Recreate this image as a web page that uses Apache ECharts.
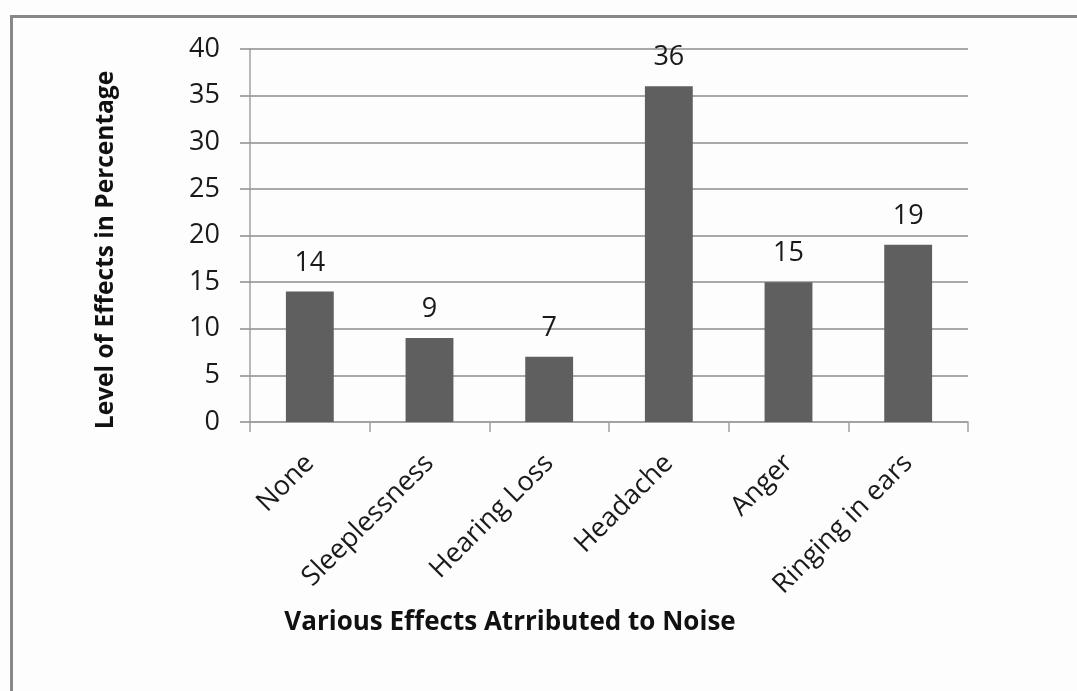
<!DOCTYPE html>
<html>
<head>
<meta charset="utf-8">
<script src="https://cdn.jsdelivr.net/npm/echarts@6/dist/echarts.min.js"></script>
<style>
html,body{margin:0;padding:0;background:#fff;}
#chart{width:1077px;height:691px;}
</style>
</head>
<body>
<div id="chart"></div>
<script>
const categories = ["None", "Sleeplessness", "Hearing Loss", "Headache", "Anger", "Ringing in ears"];
const values = [14, 9, 7, 36, 15, 19];
const yTicks = [0, 5, 10, 15, 20, 25, 30, 35, 40];
const xTitle = "Various Effects Atrributed to Noise";
const yTitle = "Level of Effects in Percentage";

const FONT = "'Open Sans', sans-serif";
const chart = echarts.init(document.getElementById('chart'), null, {renderer: 'canvas'});
chart.setOption({
  backgroundColor: '#fdfdfd',
  animation: false,
  grid: {left: 250, right: 109, top: 49, bottom: 269, containLabel: false},
  xAxis: {
    type: 'category',
    data: categories,
    axisLine: {lineStyle: {color: '#a0a0a0', width: 1.5}},
    axisTick: {show: true, length: 10, lineStyle: {color: '#a0a0a0', width: 1.5}},
    axisLabel: {rotate: 45, margin: 37, fontSize: 27, color: '#1a1a1a', fontFamily: FONT, interval: 0}
  },
  yAxis: {
    type: 'value',
    min: yTicks[0],
    max: yTicks[yTicks.length - 1],
    interval: 5,
    axisLine: {show: true, lineStyle: {color: '#a0a0a0', width: 1.5}},
    axisTick: {show: true, length: 10, lineStyle: {color: '#8c8c8c', width: 1.5}},
    splitLine: {lineStyle: {color: '#8c8c8c', width: 1.5}},
    axisLabel: {margin: 30, fontSize: 27, color: '#1a1a1a', fontFamily: FONT}
  },
  series: [{
    type: 'bar',
    data: values,
    barWidth: '40%',
    itemStyle: {color: '#5f5f5f'},
    label: {show: true, position: 'top', distance: 15, fontSize: 27, color: '#1a1a1a', fontFamily: FONT}
  }],
  graphic: [
    {type: 'rect', left: 9, top: 14, shape: {width: 1200, height: 800},
     style: {fill: 'none', stroke: '#888', lineWidth: 3}, silent: true},
    {type: 'text', x: 510, y: 623,
     style: {text: xTitle, font: "bold 26px " + FONT, fill: '#111', textAlign: 'center', textVerticalAlign: 'middle'}},
    {type: 'text', x: 106, y: 250, rotation: Math.PI / 2,
     style: {text: yTitle, font: "bold 24.5px " + FONT, fill: '#111', textAlign: 'center', textVerticalAlign: 'middle'}}
  ]
});
</script>
</body>
</html>
